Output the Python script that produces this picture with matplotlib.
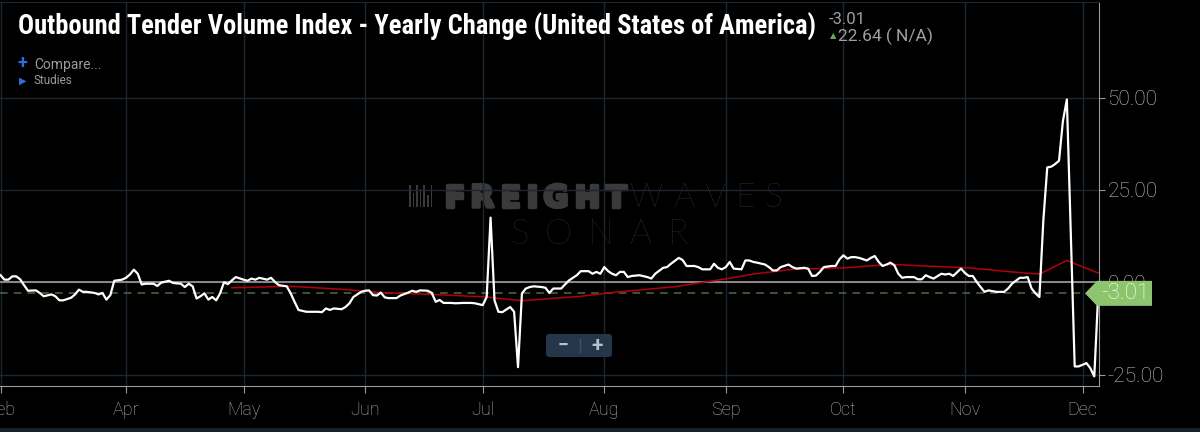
import numpy as np
import pandas as pd
import matplotlib
matplotlib.use('Agg')
import matplotlib.pyplot as plt
import matplotlib.patheffects as pe
from matplotlib.patches import Polygon, FancyBboxPatch, Rectangle
from matplotlib.lines import Line2D
from matplotlib.transforms import IdentityTransform

plt.rcParams['font.family'] = ['Roboto', 'DejaVu Sans']

# day offsets from 2019-03-01 and yearly change values
start = pd.Timestamp('2019-03-01')
otvi_days = [-1, 0, 1, 2, 3, 4, 5, 6, 8, 9, 10, 12, 13, 14, 15, 17, 18, 19, 20, 21, 23, 24, 25, 26, 27, 28, 30,
             31, 32, 33, 34, 35, 36, 38, 39, 40, 42, 43, 45, 46, 47, 48, 49, 50, 51, 52, 53, 54, 55, 56, 57, 58, 59,
             61, 62, 63, 64, 65, 67, 68, 69, 70, 72, 73, 74, 75, 77, 79, 80, 81, 82, 83, 84, 86, 87, 88, 89, 91,
             92, 93, 94, 95, 96, 97, 98, 100, 101, 103, 104, 105, 106, 108, 109, 110, 111, 112, 114, 115, 117, 119, 120,
             122, 123, 124, 125, 126, 127, 128, 129, 130, 131, 132, 133, 134, 135, 137, 138, 139, 140, 142, 143, 144,
             146, 147, 149, 150, 151, 152,
             153, 154, 155, 156, 157, 158, 159, 160, 162, 164, 165, 166, 168, 169, 170, 172, 173, 174, 176, 177, 178,
             180, 181, 182, 183,
             184, 185, 186, 188, 189, 190, 191, 192, 194, 195, 196, 197, 198, 200, 201, 202, 204, 205, 206, 207, 208,
             209, 211, 212, 213,
             214, 215, 216, 217, 218, 220, 221, 222, 223, 224, 225, 226, 227, 228, 229, 230, 232, 233, 234, 235, 236,
             237, 239, 240, 241, 242, 244,
             245, 246, 247, 248, 249, 250, 251, 253, 255, 256, 257, 259, 260, 261, 262, 263, 264, 265, 266, 267, 268,
             269, 270, 271, 273, 274, 276, 277, 278, 279]
otvi_vals = [1.9, 0.7, 0.7, 1.6, 1.6, 0.8, -0.8, -2.3, -2.2, -2.9, -3.8, -3.3, -3.8, -4.9, -4.9, -4.2, -3.3, -2.0,
             -2.6, -2.6, -2.9, -3.3, -2.9, -4.7, -3.5, 0.4, 0.7,
             1.2, 2.1, 3.4, 2.3, -0.6, -0.4, -0.4, -1.0, -0.1, 0.4, -0.2, -0.4, -1.3, -0.4, -1.1, -4.4, -3.8, -3.0,
             -4.7, -4.0, -4.9, -3.0, 0.0, -0.5, 0.5, 1.4,
             0.7, 0.4, 1.0, 0.7, 1.2, 0.7, 1.2, 0.1, -0.8, -1.1, -3.0, -5.3, -7.5, -8.0, -8.0, -8.0, -8.1, -7.1, -7.5,
             -7.1, -7.3, -6.7, -5.7, -4.0, -2.6,
             -2.3, -2.2, -3.5, -3.6, -2.8, -4.1, -4.3, -4.3, -3.6, -2.8, -2.3, -2.6, -2.2, -2.3, -2.9, -5.3, -4.8,
             -5.6, -5.6, -5.7, -5.6, -5.6, -5.7,
             -6.2, -4.0, 17.5, -4.9, -8.0, -8.1, -7.4, -6.7, -8.0, -23.0, -3.0, -1.7, -1.3, -1.1, -1.3, -1.5, -2.9,
             -1.7, -1.7, -0.6, 0.5, 1.9, 3.0, 3.0, 2.3, 2.8, 2.3,
             4.1, 3.0, 2.3, 1.9, 2.8, 2.8, 1.4, 1.7, 1.9, 1.4, 1.0, 2.3, 3.9, 4.1, 5.0, 6.6, 6.0, 4.4, 4.4, 4.1, 3.5,
             3.5, 5.0, 3.9, 3.5,
             4.1, 5.5, 3.7, 3.5, 5.9, 5.9, 5.5, 5.3, 4.8, 4.1, 3.2, 3.2, 4.1, 4.8, 4.1, 3.7, 3.9, 3.7, 1.7, 1.8, 2.8,
             4.1, 4.4, 4.4, 6.2,
             7.3, 6.4, 6.8, 6.8, 6.6, 5.9, 6.6, 7.1, 5.5, 4.4, 4.8, 5.3, 4.6, 2.3, 1.2, 1.4, 1.4, 0.8, 0.8, 1.9, 1.4,
             1.0, 2.3, 2.1, 2.3, 1.7, 3.7,
             2.5, 1.7, 1.7, 0.1, -1.3, -2.6, -2.2, -2.6, -2.6, -1.7, -0.4, 1.2, 1.2, 1.4, -1.7, -3.0, -4.0, 16.7, 31.1,
             31.3, 32.0, 32.9, 43.7, 49.5, -22.8, -22.8, -21.9, -23.3, -25.5, -3.01]
assert len(otvi_days) == len(otvi_vals)

# moving average (red)
ma_days = [58, 73, 86, 96, 109, 123, 132, 147, 154, 171, 177, 184, 191, 201, 214, 223, 227, 235, 246, 257, 264, 271, 279]
ma_vals = [-1.5, -1.1, -1.9, -2.8, -3.3, -4.0, -5.0, -3.8, -2.9, -1.2, -0.2, 0.9, 2.2, 3.5, 3.9, 4.6, 4.8, 4.4, 3.9,
           2.8, 2.2, 5.9, 2.5]

last_val = -3.01
month_ticks = ['2019-02-28', '2019-04-01', '2019-05-01', '2019-06-01', '2019-07-01', '2019-08-01',
               '2019-09-01', '2019-10-01', '2019-11-01', '2019-12-01']
month_labels = ['Feb', 'Apr', 'May', 'Jun', 'Jul', 'Aug', 'Sep', 'Oct', 'Nov', 'Dec']
y_ticks = [50, 25, 0, -25]

title_text = 'Outbound Tender Volume Index - Yearly Change (United States of America)'

dates = start + pd.to_timedelta(otvi_days, unit='D')
ma_dates = start + pd.to_timedelta(ma_days, unit='D')

W, H = 1200, 432
fig = plt.figure(figsize=(W / 100, H / 100), dpi=100, facecolor='black')
ax = fig.add_axes([0, 46 / H, 1099 / W, 384 / H])
ax.set_facecolor('black')

ax.plot(ma_dates, ma_vals, color='#b4000a', lw=1.1, zorder=3)
ax.plot(dates, otvi_vals, color='white', lw=1.6, zorder=4)
ax.axhline(0, color='#8a8a8a', lw=1.4, zorder=2)
ax.axhline(last_val, color='#4d6a3e', lw=1.1, ls=(0, (5, 4)), zorder=2)

ax.set_xlim(start + pd.Timedelta(days=-1.14), start + pd.Timedelta(days=279.2))
ax.set_ylim(-28.1, 75.9)
ax.set_xticks(pd.to_datetime(month_ticks))
ax.set_xticklabels(month_labels)
ax.set_yticks(y_ticks)
ax.set_yticklabels(['%.2f' % v for v in y_ticks])
ax.yaxis.tick_right()
ax.grid(True, color='#1b2632', lw=1)
ax.set_axisbelow(True)
ax.spines['left'].set_visible(False)
ax.spines['top'].set_color('#1b2632')
ax.spines['right'].set_color('#9a9a9a')
ax.spines['bottom'].set_color('#9a9a9a')
ax.tick_params(axis='x', colors='#9a9a9a', labelcolor='#b4b4b4', labelsize=13, length=5, pad=6)
ax.tick_params(axis='y', colors='#9a9a9a', labelcolor='#c4c4c4', labelsize=15, length=4, pad=2)
for lab in ax.get_yticklabels() + ax.get_xticklabels():
    lab.set_fontweight('light')

fig.canvas.draw()
px = IdentityTransform()
rend = fig.canvas.get_renderer()

# last value tag
x_r = ax.get_window_extent().x1
y_c = ax.transData.transform((ax.get_xlim()[0], last_val))[1]
tag = Polygon([(x_r - 14, y_c), (x_r - 2, y_c + 12.5), (x_r + 53, y_c + 12.5),
               (x_r + 53, y_c - 12.5), (x_r - 2, y_c - 12.5)], closed=True,
              fc='#8cc56e', ec='none', transform=px, zorder=10)
fig.add_artist(tag)
fig.text(x_r + 26, y_c, '%.2f' % last_val, transform=px, ha='center', va='center',
         color='white', fontsize=16, fontweight='light', zorder=11)

# zoom control
fig.add_artist(FancyBboxPatch((546, H - 357), 66, 23, boxstyle='round,pad=0,rounding_size=3',
                              fc='#25364a', ec='none', transform=px, zorder=10))
fig.add_artist(Line2D([580, 580], [H - 352, H - 339], color='#3e5064', lw=1, transform=px, zorder=11))
fig.text(563, H - 345.5, '\u2212', transform=px, ha='center', va='center', color='#b8c2cc',
         fontsize=14, fontweight='bold', zorder=11)
fig.text(597, H - 345.5, '+', transform=px, ha='center', va='center', color='#b8c2cc',
         fontsize=15, fontweight='bold', zorder=11)


# watermark, under the grid lines, letters spread over the logo's width
def tracked(s, x0, x1, y, **kw):
    items = [ax.text(0, H - y, ch, transform=px, ha='left', va='baseline', zorder=0.2, **kw) for ch in s]
    widths = [t.get_window_extent(rend).width for t in items]
    gap = (x1 - x0 - sum(widths)) / (len(s) - 1)
    x = x0
    for t, w in zip(items, widths):
        t.set_x(x)
        x += w + gap


for i, hgt in enumerate([22, 14, 22, 18, 22, 12, 22]):
    ax.add_artist(Rectangle((409 + i * 3.6, H - 207), 1.6, hgt, fc='#3a3a3a', ec='none',
                            transform=px, zorder=0.2))
tracked('FREIGHT', 444, 626, 207, family=['DejaVu Sans'], fontweight='bold', fontsize=22, color='#3a3a3a',
        path_effects=[pe.withStroke(linewidth=2.5, foreground='#3a3a3a')])
tracked('WAVES', 630, 782, 207, family=['Lato', 'Roboto', 'DejaVu Sans'], fontweight='light', fontsize=24,
        color='#3e3e3e')
tracked('SONAR', 510, 688, 244, family=['Lato', 'Roboto', 'DejaVu Sans'], fontweight='light', fontsize=25,
        color='#363636')

# header texts
title = fig.text(18, H - 35, title_text, transform=px, ha='left', va='baseline', color='white',
                 family=['Roboto Condensed', 'Liberation Sans Narrow', 'Roboto', 'DejaVu Sans'],
                 fontweight='bold', fontsize=20)
bb = title.get_window_extent(rend)
title.set_fontsize(20 * 797 / bb.width)

fig.text(829, H - 24, '-3.01', transform=px, color='#a0a0a0', fontsize=12)
fig.text(830, H - 38, '\u25b2', transform=px, color='#6aa84f', fontsize=6,
         family=['DejaVu Sans'])
fig.text(838, H - 41, '22.64 ( N/A)', transform=px, color='#a0a0a0', fontsize=12.5)
fig.text(17, H - 68, '+', transform=px, color='#2e6fd6', fontsize=13, fontweight='bold')
fig.text(34, H - 69, 'Compare...', transform=px, color='#9a9a9a', fontsize=10)
fig.text(19, H - 84, '\u25b6', transform=px, color='#2e6fd6', fontsize=7, family=['DejaVu Sans'])
fig.text(34, H - 84, 'Studies', transform=px, color='#9a9a9a', fontsize=8.5)

# bottom strip
fig.add_artist(Rectangle((0, 0), W, 4, fc='#17212b', ec='none', transform=px))

fig.savefig('out.png', dpi=100, facecolor='black')
